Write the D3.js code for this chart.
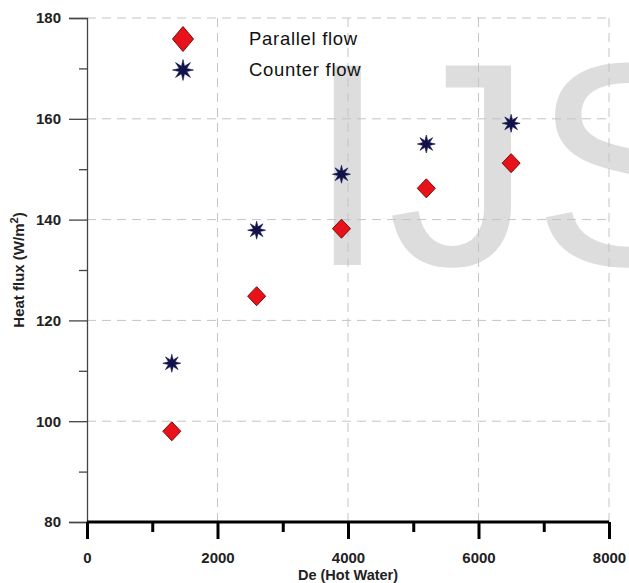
<html lang="en">
<head>
  <meta charset="UTF-8">
  <title>Heat flux vs De</title>
  <style>
    body { margin: 0; background: #fff; }
    svg text { font-family: "Liberation Sans", Arial, sans-serif; }
  </style>
</head>
<body>
  <div class="svg-target"></div>
  <script src="https://d3js.org/d3.v7.min.js"></script>
  <script>
    const w = 629;
    const h = 583;

    // data
    const deValues = [1300, 2600, 3900, 5200, 6500];
    const parallelFlow = [98, 124.8, 138.2, 146.2, 151.2];
    const counterFlow = [111.5, 137.9, 149, 155, 159.1];
    const seriesNames = ["Parallel flow", "Counter flow"];
    const xMajorTicks = [0, 2000, 4000, 6000, 8000];
    const xMinorTicks = [1000, 3000, 5000, 7000];
    const yMajorTicks = [80, 100, 120, 140, 160, 180];
    const yMinorTicks = [90, 110, 130, 150, 170];

    const svg = d3.select("div.svg-target")
      .append("svg")
      .attr("width", w)
      .attr("height", h);

    const xScale = d3.scaleLinear().domain([0, 8000]).range([87, 609]);
    const yScale = d3.scaleLinear().domain([80, 180]).range([522, 18]);

    // watermark
    svg.append("text")
      .attr("x", 307)
      .attr("y", 265)
      .attr("font-size", 290)
      .attr("fill", "#dddddd")
      .text("IJS");

    // grid
    const dash = "9,6";
    svg.append("g").selectAll("line")
      .data(xMajorTicks.slice(1))
      .enter().append("line")
      .attr("x1", (d) => xScale(d)).attr("x2", (d) => xScale(d))
      .attr("y1", yScale(180)).attr("y2", yScale(80))
      .attr("stroke", "#c4c4c4").attr("stroke-dasharray", dash);
    svg.append("g").selectAll("line")
      .data(yMajorTicks.slice(1))
      .enter().append("line")
      .attr("x1", xScale(0)).attr("x2", xScale(8000))
      .attr("y1", (d) => yScale(d)).attr("y2", (d) => yScale(d))
      .attr("stroke", "#c4c4c4").attr("stroke-dasharray", dash);

    // y axis
    const yAxis = d3.axisLeft(yScale).tickValues(yMajorTicks).tickSize(18).tickPadding(8);
    const yMinor = d3.axisLeft(yScale).tickValues(yMinorTicks).tickSize(8).tickFormat("");
    const gy = svg.append("g").attr("transform", "translate(" + xScale(0) + ",0)").call(yAxis);
    const gy2 = svg.append("g").attr("transform", "translate(" + xScale(0) + ",0)").call(yMinor);
    [gy, gy2].forEach((g) => {
      g.select(".domain").attr("stroke", "#444").attr("stroke-width", 1.3);
      g.selectAll(".tick line").attr("stroke", "#444").attr("stroke-width", 1.3);
    });
    gy2.select(".domain").remove();
    gy.selectAll(".tick text")
      .attr("font-size", 15).attr("font-weight", "bold").attr("fill", "#222")
      .attr("font-family", "Liberation Sans, Arial, sans-serif");

    // x axis
    const xAxis = d3.axisBottom(xScale).tickValues(xMajorTicks).tickSize(17).tickPadding(13).tickFormat(d3.format("d"));
    const xMinor = d3.axisBottom(xScale).tickValues(xMinorTicks).tickSize(10).tickFormat("");
    const gx = svg.append("g").attr("transform", "translate(0," + yScale(80) + ")").call(xAxis);
    const gx2 = svg.append("g").attr("transform", "translate(0," + yScale(80) + ")").call(xMinor);
    [gx, gx2].forEach((g) => {
      g.select(".domain").attr("stroke", "#000").attr("stroke-width", 3).attr("d", "M" + xScale(0) + ",0H" + xScale(8000));
      g.selectAll(".tick line").attr("stroke", "#000").attr("stroke-width", 3);
    });
    gx2.select(".domain").remove();
    gx.selectAll(".tick text")
      .attr("font-size", 15).attr("font-weight", "bold").attr("fill", "#222")
      .attr("font-family", "Liberation Sans, Arial, sans-serif");

    // axis titles
    svg.append("text")
      .attr("x", (xScale(0) + xScale(8000)) / 2)
      .attr("y", 580)
      .attr("text-anchor", "middle")
      .attr("font-size", 14.5).attr("font-weight", "bold").attr("fill", "#222")
      .text("De (Hot Water)");

    const yTitle = svg.append("text")
      .attr("transform", "translate(24," + (yScale(80) + yScale(180)) / 2 + ") rotate(-90)")
      .attr("text-anchor", "middle")
      .attr("font-size", 15).attr("font-weight", "bold").attr("fill", "#222");
    yTitle.append("tspan").text("Heat flux (W/m");
    yTitle.append("tspan").attr("font-size", 11).attr("dy", -6).text("2");
    yTitle.append("tspan").attr("dy", 6).text(")");

    // marker shapes
    const diamond = (hw, hh) => "M0," + (-hh) + "L" + hw + ",0L0," + hh + "L" + (-hw) + ",0Z";
    const star = (ro, ri) => d3.lineRadial()
      .angle((d, i) => i * Math.PI / 8)
      .radius((d, i) => (i % 2 === 0 ? ro : ri))
      .curve(d3.curveLinearClosed)(d3.range(16));

    const starColor = "#11124a";
    const red = "#e8121a";
    const redStroke = "#7a0a0a";

    svg.append("g").selectAll("path")
      .data(deValues.map((d, i) => ({ x: d, y: counterFlow[i] })))
      .enter().append("path")
      .attr("transform", (d) => "translate(" + xScale(d.x) + "," + yScale(d.y) + ")")
      .attr("d", star(9, 3.6))
      .attr("fill", starColor)
      .attr("stroke", starColor).attr("stroke-width", 0.6);

    svg.append("g").selectAll("path")
      .data(deValues.map((d, i) => ({ x: d, y: parallelFlow[i] })))
      .enter().append("path")
      .attr("transform", (d) => "translate(" + xScale(d.x) + "," + yScale(d.y) + ")")
      .attr("d", diamond(9, 9.5))
      .attr("fill", red)
      .attr("stroke", redStroke).attr("stroke-width", 1);

    // legend
    const legend = svg.append("g");
    legend.append("path")
      .attr("transform", "translate(183,39)")
      .attr("d", diamond(10.5, 12.5))
      .attr("fill", red).attr("stroke", redStroke).attr("stroke-width", 1);
    legend.append("path")
      .attr("transform", "translate(183,70)")
      .attr("d", star(10.5, 4))
      .attr("fill", starColor).attr("stroke", starColor).attr("stroke-width", 0.6);
    legend.selectAll("text")
      .data(seriesNames)
      .enter().append("text")
      .attr("x", 249)
      .attr("y", (d, i) => 45 + i * 31)
      .attr("font-size", 18.5)
      .attr("letter-spacing", 0.7)
      .attr("fill", "#111")
      .text((d) => d);
  </script>
</body>
</html>
